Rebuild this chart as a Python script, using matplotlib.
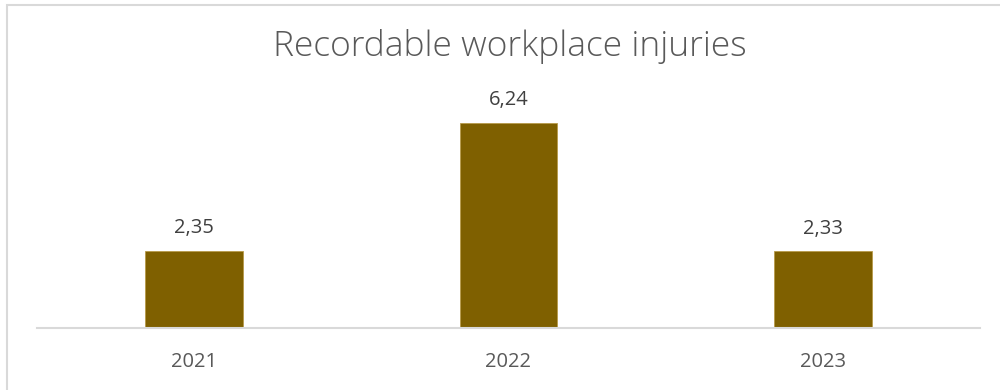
import matplotlib.pyplot as plt
from matplotlib.patches import Rectangle

years = ['2021', '2022', '2023']
injuries = [2.35, 6.24, 2.33]
value_labels = ['2,35', '6,24', '2,33']

fig = plt.figure(figsize=(10, 3.9), dpi=100)
ax = fig.add_axes([0.037, 1 - 328 / 390, 0.943, 230 / 390])

x = range(len(years))
ax.bar(x, injuries, width=0.31, color='#7F6000', edgecolor='#B89A4A', linewidth=0.6, zorder=2)
for xi, v, lab in zip(x, injuries, value_labels):
    ax.annotate(lab, (xi, v), xytext=(0, 9), textcoords='offset points',
                ha='center', va='bottom', fontsize=14.5, color='#404040', family='Open Sans')

ax.set_xlim(-0.5, 2.5)
ax.set_ylim(0, 7)
ax.set_xticks(list(x))
ax.set_xticklabels(years, fontsize=14.5, color='#595959', family='Open Sans')
ax.tick_params(axis='x', length=0, pad=17)
ax.set_yticks([])
for s in ['top', 'right', 'left']:
    ax.spines[s].set_visible(False)
ax.spines['bottom'].set_color('#D9D9D9')
ax.spines['bottom'].set_linewidth(1.5)

fig.text(0.51, 0.88, 'Recordable workplace injuries', ha='center', va='center',
         fontsize=25.5, color='#595959', family='Open Sans', fontweight='light')

# chart frame
fig.patches.append(Rectangle((7 / 1000, -0.1), 1.1, 1 - 5 / 390 + 0.1, transform=fig.transFigure,
                             fill=False, edgecolor='#D9D9D9', linewidth=1.5))

fig.savefig('out.png', dpi=100)
